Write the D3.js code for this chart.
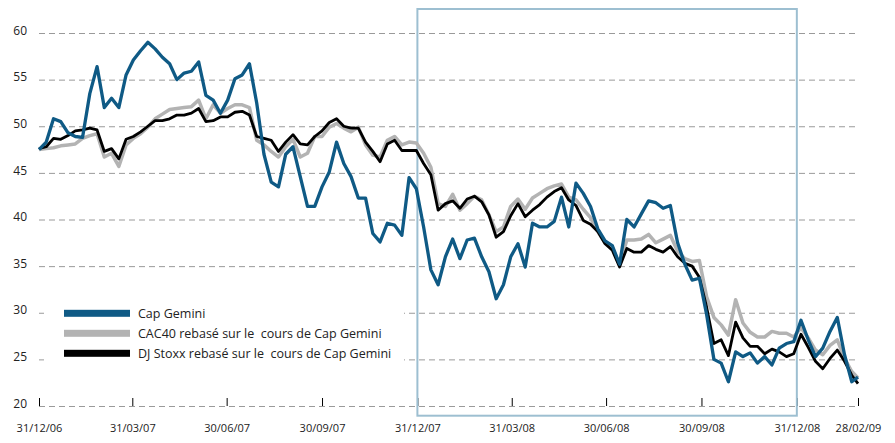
<!DOCTYPE html>
<html>
<head>
<meta charset="utf-8">
<script src="https://cdn.jsdelivr.net/npm/d3@7"></script>
<style>
  body { margin: 0; background: #fff; }
  text { font-family: "Open Sans", "DejaVu Sans", sans-serif; fill: #222; }
</style>
</head>
<body>
<script>
// ************************************************************************************
// DATA (weekly readings from 31/12/06, last point 28/02/09)
// ************************************************************************************
var capGemini = [
  47.5, 48.3, 50.8, 50.5, 49.3, 48.9, 48.8, 53.5, 56.4, 52.0,
  53.0, 52.0, 55.5, 57.1, 58.1, 59.0, 58.3, 57.4, 56.7, 55.0,
  55.7, 55.9, 56.9, 53.3, 52.8, 51.4, 52.8, 55.1, 55.5, 56.7,
  52.5, 47.0, 44.0, 43.5, 47.0, 47.8, 44.6, 41.4, 41.4, 43.5,
  45.1, 48.3, 46.0, 44.6, 42.3, 42.3, 38.5, 37.6, 39.6, 39.4,
  38.3, 44.5, 43.3, 39.2, 34.6, 33.0, 36.0, 37.9, 35.8, 37.8,
  38.0, 36.0, 34.4, 31.5, 33.0, 36.0, 37.4, 34.9, 39.6, 39.2,
  39.2, 39.8, 42.4, 39.2, 43.9, 42.8, 41.4, 39.0, 37.7, 37.2,
  35.2, 40.0, 39.2, 40.6, 42.0, 41.8, 41.2, 41.5, 37.5, 35.2,
  33.5, 33.7, 29.8, 25.0, 24.6, 22.6, 25.8, 25.3, 25.7, 24.6,
  25.3, 24.4, 26.2, 26.7, 26.9, 29.2, 27.1, 25.3, 26.2, 28.0,
  29.5, 25.5, 22.6, 23.1
]

var cac40 = [
  47.5, 47.6, 47.7, 47.9, 48.0, 48.1, 48.7, 49.0, 49.2, 46.7,
  47.1, 45.7, 48.0, 48.7, 49.2, 49.9, 50.8, 51.3, 51.8, 51.9,
  52.0, 52.1, 52.8, 50.8, 52.3, 51.4, 51.9, 52.3, 52.3, 52.0,
  48.5, 48.0, 47.3, 46.7, 47.8, 48.6, 46.7, 47.1, 48.9, 48.9,
  49.9, 50.3, 49.8, 49.4, 49.9, 48.0, 46.9, 46.7, 48.5, 48.9,
  48.0, 48.3, 48.2, 47.1, 45.6, 41.7, 41.4, 42.7, 41.0, 41.7,
  42.5, 42.1, 40.5, 38.7, 39.2, 41.4, 42.2, 41.1, 42.3, 42.8,
  43.3, 43.6, 43.8, 42.4, 42.1, 41.1, 40.2, 38.7, 37.5, 37.0,
  35.1, 37.8, 37.8, 37.9, 38.4, 37.5, 37.9, 38.3, 36.6, 35.8,
  35.5, 35.6, 31.7, 29.5, 28.7, 27.6, 31.4, 28.9, 27.9, 27.4,
  27.4, 28.0, 27.8, 27.8, 27.4, 28.4, 27.3, 26.0, 25.5, 26.5,
  27.1, 25.1, 23.7, 23.0
]

var djStoxx = [
  47.6, 47.8, 48.7, 48.6, 49.0, 49.5, 49.6, 49.8, 49.6, 47.3,
  47.6, 46.5, 48.6, 48.9, 49.4, 50.0, 50.6, 50.6, 50.8, 51.2,
  51.2, 51.4, 51.9, 50.5, 50.6, 51.0, 51.0, 51.5, 51.6, 51.2,
  48.9, 48.7, 48.5, 47.3, 48.3, 49.1, 48.1, 48.0, 48.9, 49.5,
  50.4, 50.8, 50.0, 49.8, 49.8, 48.3, 47.3, 46.2, 48.1, 48.5,
  47.4, 47.4, 47.4, 46.0, 44.8, 41.0, 41.7, 42.0, 41.2, 42.2,
  42.5, 41.9, 40.5, 38.1, 38.7, 40.4, 41.7, 40.3, 41.0, 41.6,
  42.4, 43.0, 43.4, 42.1, 41.5, 39.9, 39.5, 38.7, 37.4, 36.7,
  34.9, 36.9, 36.5, 36.5, 37.2, 36.8, 36.5, 37.1, 36.0, 35.3,
  35.0, 33.8, 30.6, 26.7, 27.1, 25.4, 29.0, 27.3, 26.4, 26.4,
  25.6, 26.1, 25.8, 25.3, 25.6, 27.7, 26.3, 24.8, 24.0, 25.1,
  26.0, 24.8, 23.3, 22.4
]

var yTicks = [20, 25, 30, 35, 40, 45, 50, 55, 60]
var xTickLabels = ["31/12/06", "31/03/07", "30/06/07", "30/09/07", "31/12/07",
                   "31/03/08", "30/06/08", "30/09/08", "31/12/08", "28/02/09"]
var legendLabels = ["Cap Gemini",
                    "CAC40 rebasé sur le  cours de Cap Gemini",
                    "DJ Stoxx rebasé sur le  cours de Cap Gemini"]

// ************************************************************************************
// HELPERS
// ************************************************************************************
var parse = d3.timeParse("%d/%m/%y")
  , fmt = d3.timeFormat("%d/%m/%y")
  , startDate = parse(xTickLabels[0])
  , endDate = parse(xTickLabels[xTickLabels.length - 1])
  , dates = capGemini.map(function (v, i) {
      return i < capGemini.length - 1 ? d3.timeDay.offset(startDate, 7 * i) : endDate
    })

var W = 895, H = 443
var x = d3.scaleTime().domain([startDate, endDate]).range([39, 858])
var y = d3.scaleLinear().domain([20, 60]).range([406, 33])

var svg = d3.select("body").append("svg")
  .attr("width", W).attr("height", H)

svg.append("rect").attr("width", W).attr("height", H).attr("fill", "#fff")

// ************************************************************************************
// AXES
// ************************************************************************************
var yAxis = svg.append("g")
  .attr("transform", "translate(39,0)")
  .call(d3.axisLeft(y).tickValues(yTicks).tickSize(-(858 - 39)).tickPadding(12))

yAxis.select(".domain").remove()
yAxis.selectAll(".tick line")
  .attr("stroke", "#9a9a9a")
  .attr("stroke-dasharray", "6,4")
yAxis.selectAll(".tick text")
  .attr("dy", "0.1em")
  .attr("font-size", 12)
  .attr("font-family", "Open Sans")
  .attr("fill", "#222")

var xAxis = svg.append("g")
  .attr("transform", "translate(0,398)")
  .call(d3.axisBottom(x)
    .tickValues(xTickLabels.map(parse))
    .tickFormat(fmt)
    .tickSize(8)
    .tickPadding(18))

xAxis.select(".domain").remove()
xAxis.selectAll(".tick line").attr("stroke", "#000")
xAxis.selectAll(".tick text")
  .attr("font-size", 11)
  .attr("font-family", "Open Sans")
  .attr("fill", "#222")

// highlighted year 2008
svg.append("rect")
  .attr("x", x(parse("31/12/07")))
  .attr("y", 9)
  .attr("width", x(parse("31/12/08")) - x(parse("31/12/07")))
  .attr("height", 415.7 - 9)
  .attr("fill", "none")
  .attr("stroke", "#9dbfd1")
  .attr("stroke-width", 2)

// ************************************************************************************
// LINES
// ************************************************************************************
var line = d3.line()
  .x(function (d, i) { return x(dates[i]) })
  .y(function (d) { return y(d) })

var series = [
  { values: cac40, color: "#b3b3b3", width: 3.5 },
  { values: djStoxx, color: "#000000", width: 2.8 },
  { values: capGemini, color: "#0f5a85", width: 3.3 }
]

series.forEach(function (s) {
  svg.append("path")
    .datum(s.values)
    .attr("d", line)
    .attr("fill", "none")
    .attr("stroke", s.color)
    .attr("stroke-width", s.width)
    .attr("stroke-linejoin", "round")
})

// ************************************************************************************
// LEGEND
// ************************************************************************************
var legendColors = ["#0f5a85", "#b3b3b3", "#000000"]
var legend = svg.append("g")

legend.append("rect")
  .attr("x", 44).attr("y", 295)
  .attr("width", 360).attr("height", 76)
  .attr("fill", "#fff")

legendLabels.forEach(function (label, i) {
  var cy = 313.3 + i * 20
  legend.append("rect")
    .attr("x", 64).attr("y", cy - 3.5)
    .attr("width", 66).attr("height", 7)
    .attr("fill", legendColors[i])
  legend.append("text")
    .attr("x", 138).attr("y", cy)
    .attr("dy", "0.35em")
    .attr("font-size", 12.5)
    .style("white-space", "pre")
    .text(label)
})
</script>
</body>
</html>
